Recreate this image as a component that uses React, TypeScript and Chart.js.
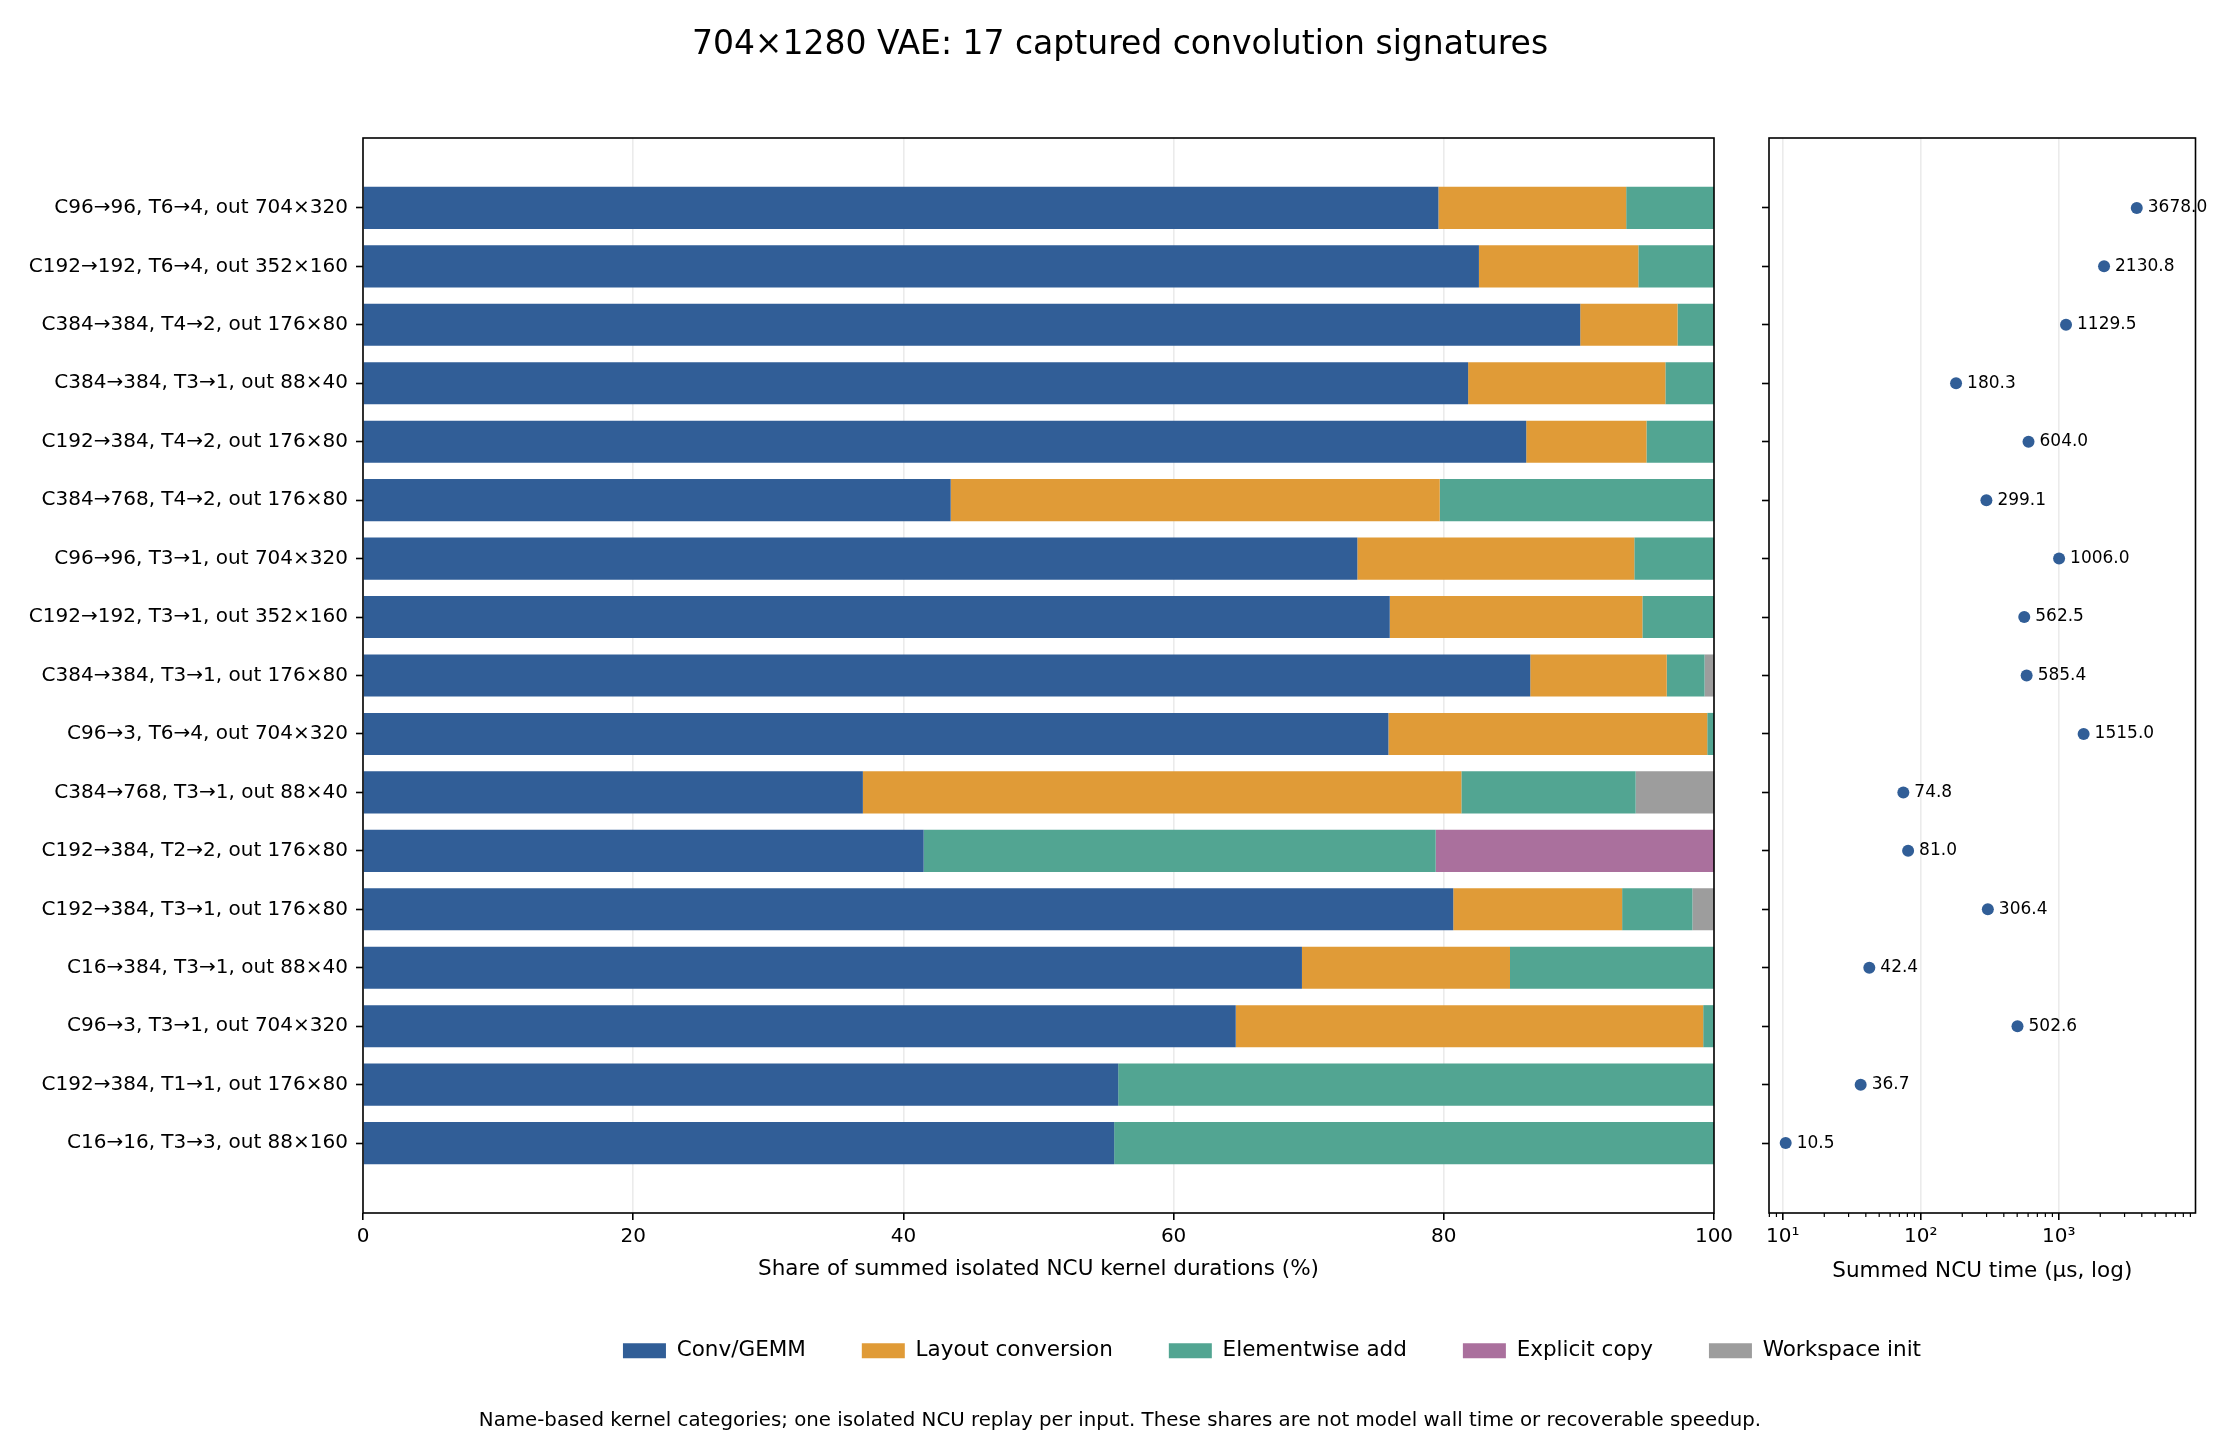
import React, { useEffect, useRef } from 'react';
import { Chart, registerables } from 'chart.js';

Chart.register(...registerables);

const categories = [
  'C96→96, T6→4, out 704×320',
  'C192→192, T6→4, out 352×160',
  'C384→384, T4→2, out 176×80',
  'C384→384, T3→1, out 88×40',
  'C192→384, T4→2, out 176×80',
  'C384→768, T4→2, out 176×80',
  'C96→96, T3→1, out 704×320',
  'C192→192, T3→1, out 352×160',
  'C384→384, T3→1, out 176×80',
  'C96→3, T6→4, out 704×320',
  'C384→768, T3→1, out 88×40',
  'C192→384, T2→2, out 176×80',
  'C192→384, T3→1, out 176×80',
  'C16→384, T3→1, out 88×40',
  'C96→3, T3→1, out 704×320',
  'C192→384, T1→1, out 176×80',
  'C16→16, T3→3, out 88×160',
];

const convGemm = [79.6, 82.6, 90.1, 81.8, 86.1, 43.5, 73.6, 76.0, 86.4, 75.9, 37.0, 41.5, 80.7, 69.5, 64.6, 55.9, 55.6];
const layoutConversion = [13.9, 11.8, 7.2, 14.6, 8.9, 36.2, 20.5, 18.7, 10.1, 23.6, 44.3, 0, 12.5, 15.4, 34.6, 0, 0];
const elementwiseAdd = [6.5, 5.6, 2.7, 3.6, 5.0, 20.3, 5.9, 5.3, 2.8, 0.5, 12.9, 37.9, 5.2, 15.1, 0.8, 44.1, 44.4];
const explicitCopy = [0, 0, 0, 0, 0, 0, 0, 0, 0, 0, 0, 20.6, 0, 0, 0, 0, 0];
const workspaceInit = [0, 0, 0, 0, 0, 0, 0, 0, 0.7, 0, 5.8, 0, 1.6, 0, 0, 0, 0];

const ncuTimeUs = [3678.0, 2130.8, 1129.5, 180.3, 604.0, 299.1, 1006.0, 562.5, 585.4, 1515.0, 74.8, 81.0, 306.4, 42.4, 502.6, 36.7, 10.5];

const seriesNames = ['Conv/GEMM', 'Layout conversion', 'Elementwise add', 'Explicit copy', 'Workspace init'];
const seriesValues = [convGemm, layoutConversion, elementwiseAdd, explicitCopy, workspaceInit];
const seriesColors = ['#315e97', '#e09b37', '#52a592', '#aa709d', '#9d9d9d'];
const pointColor = '#315e97';

const shareTicks = [0, 20, 40, 60, 80, 100];
const logMajorTicks = [10, 100, 1000];
const logTickLabels = ['10¹', '10²', '10³'];
const logDecades = [1, 10, 100, 1000];
const logMinorMultipliers = [2, 3, 4, 5, 6, 7, 8, 9];

const titleText = '704×1280 VAE: 17 captured convolution signatures';
const footnoteText =
  'Name-based kernel categories; one isolated NCU replay per input. These shares are not model wall time or recoverable speedup.';
const shareAxisTitle = 'Share of summed isolated NCU kernel durations (%)';
const timeAxisTitle = 'Summed NCU time (μs, log)';

const Y_MIN = -1.196;
const Y_MAX = 17.196;
const GRID_COLOR = '#ebebeb';
const LEFT_CANVAS_W = 2544;

const framePlugin = {
  id: 'frame',
  afterDatasetsDraw(chart: any) {
    const { ctx, chartArea: a } = chart;
    ctx.save();
    ctx.strokeStyle = '#000';
    ctx.lineWidth = 1.6;
    ctx.strokeRect(a.left, a.top, a.right - a.left, a.bottom - a.top);
    ctx.restore();
  },
};

const minorTickPlugin = {
  id: 'minorTicks',
  afterDraw(chart: any) {
    const { ctx, chartArea: a } = chart;
    const xs = chart.scales.x;
    ctx.save();
    ctx.strokeStyle = '#000';
    ctx.lineWidth = 1.2;
    logDecades.forEach((d) => {
      logMinorMultipliers.forEach((m) => {
        const v = d * m;
        if (v < xs.min || v > xs.max) return;
        const px = xs.getPixelForValue(v);
        ctx.beginPath();
        ctx.moveTo(px, a.bottom);
        ctx.lineTo(px, a.bottom + 4);
        ctx.stroke();
      });
    });
    ctx.restore();
  },
};

const pointLabelPlugin = {
  id: 'pointLabels',
  afterDatasetsDraw(chart: any) {
    const { ctx } = chart;
    const meta = chart.getDatasetMeta(0);
    ctx.save();
    ctx.font = '17px "DejaVu Sans"';
    ctx.fillStyle = '#000';
    ctx.textAlign = 'left';
    ctx.textBaseline = 'middle';
    meta.data.forEach((el: any, i: number) => {
      ctx.fillText(ncuTimeUs[i].toFixed(1), el.x + 11, el.y);
    });
    ctx.restore();
  },
};

export default function App() {
  const leftRef = useRef<HTMLCanvasElement>(null);
  const rightRef = useRef<HTMLCanvasElement>(null);

  useEffect(() => {
    document.body.style.margin = '0';
    Chart.defaults.font.family = '"DejaVu Sans", sans-serif';
    Chart.defaults.color = '#000';

    const left = new Chart(leftRef.current as HTMLCanvasElement, {
      type: 'bar',
      data: {
        datasets: seriesNames.map((name, k) => ({
          label: name,
          data: seriesValues[k].map((v, i) => ({ x: v, y: i })),
          backgroundColor: seriesColors[k],
          borderWidth: 0,
          categoryPercentage: 0.8,
          barPercentage: 0.9,
          xAxisID: 'x',
          yAxisID: 'y',
        })),
      },
      options: {
        indexAxis: 'y',
        responsive: false,
        animation: false,
        devicePixelRatio: 1,
        layout: { padding: { left: 0, right: 0, top: 138, bottom: 68.5 } },
        plugins: {
          legend: {
            position: 'bottom',
            labels: {
              boxWidth: 43,
              boxHeight: 15,
              padding: 56,
              font: { size: 21.5 },
              color: '#000',
            },
          },
          tooltip: { enabled: false },
          title: { display: false },
        },
        scales: {
          x: {
            type: 'linear',
            position: 'bottom',
            stacked: true,
            min: 0,
            max: 100,
            afterBuildTicks: (s: any) => {
              s.ticks = shareTicks.map((v) => ({ value: v }));
            },
            ticks: { font: { size: 20 }, color: '#000', padding: 5, autoSkip: false, maxRotation: 0 },
            grid: { color: GRID_COLOR, lineWidth: 1.6, tickColor: '#000', tickLength: 7, tickWidth: 1.6 },
            border: { display: false },
            title: {
              display: true,
              text: shareAxisTitle,
              font: { size: 21.5 },
              color: '#000',
              padding: { top: 0, bottom: 2 },
            },
            afterFit: (s: any) => {
              s.height = 71;
            },
          },
          y: {
            type: 'linear',
            position: 'left',
            stacked: true,
            reverse: true,
            offset: false,
            min: Y_MIN,
            max: Y_MAX,
            afterBuildTicks: (s: any) => {
              s.ticks = categories.map((_, i) => ({ value: i }));
            },
            ticks: {
              callback: (v: any) => categories[v as number] ?? '',
              font: { size: 20 },
              color: '#000',
              padding: 8,
              autoSkip: false,
            },
            grid: { offset: false, drawOnChartArea: false, tickColor: '#000', tickLength: 7, tickWidth: 1.6 },
            border: { display: false },
            afterFit: (s: any) => {
              s.width = 363;
            },
          },
          spacer: {
            type: 'linear',
            position: 'right',
            display: true,
            grid: { display: false },
            ticks: { display: false },
            border: { display: false },
            afterFit: (s: any) => {
              s.width = LEFT_CANVAS_W - 1714;
            },
          },
        },
      } as any,
      plugins: [framePlugin],
    });

    const right = new Chart(rightRef.current as HTMLCanvasElement, {
      type: 'scatter',
      data: {
        datasets: [
          {
            label: 'Summed NCU time',
            data: ncuTimeUs.map((v, i) => ({ x: v, y: i })),
            backgroundColor: pointColor,
            borderWidth: 0,
            pointRadius: 6,
            pointHoverRadius: 6,
            xAxisID: 'x',
            yAxisID: 'y',
          },
        ],
      },
      options: {
        responsive: false,
        animation: false,
        devicePixelRatio: 1,
        layout: { padding: 0 },
        plugins: {
          legend: { display: false },
          tooltip: { enabled: false },
          title: {
            display: true,
            text: titleText,
            font: { size: 33, weight: 'normal' },
            color: '#000',
            padding: { top: 26, bottom: 72.4 },
          },
          subtitle: {
            display: true,
            position: 'bottom',
            text: footnoteText,
            font: { size: 19.8, weight: 'normal' },
            color: '#000',
            padding: { top: 124.6, bottom: 7.64 },
          },
        },
        scales: {
          x: {
            type: 'logarithmic',
            position: 'bottom',
            min: 7.95,
            max: 9800,
            afterBuildTicks: (s: any) => {
              s.ticks = logMajorTicks.map((v) => ({ value: v, major: true }));
            },
            ticks: {
              callback: (v: any) => {
                const idx = logMajorTicks.indexOf(Number(v));
                return idx >= 0 ? logTickLabels[idx] : '';
              },
              font: { size: 20 },
              color: '#000',
              padding: 5,
              autoSkip: false,
              maxRotation: 0,
            },
            grid: { color: GRID_COLOR, lineWidth: 1.6, tickColor: '#000', tickLength: 7, tickWidth: 1.6 },
            border: { display: false },
            title: { display: true, text: timeAxisTitle, font: { size: 21.5 }, color: '#000', padding: 0 },
            afterFit: (s: any) => {
              s.height = 71;
            },
          },
          y: {
            type: 'linear',
            position: 'left',
            reverse: true,
            offset: false,
            min: Y_MIN,
            max: Y_MAX,
            afterBuildTicks: (s: any) => {
              s.ticks = categories.map((_, i) => ({ value: i }));
            },
            ticks: { callback: () => '', autoSkip: false },
            grid: { offset: false, drawOnChartArea: false, tickColor: '#000', tickLength: 7, tickWidth: 1.6 },
            border: { display: false },
            afterFit: (s: any) => {
              s.width = 1769;
            },
          },
          spacer: {
            type: 'linear',
            position: 'right',
            display: true,
            grid: { display: false },
            ticks: { display: false },
            border: { display: false },
            afterFit: (s: any) => {
              s.width = 44.5;
            },
          },
        },
      } as any,
      plugins: [framePlugin, minorTickPlugin, pointLabelPlugin],
    });

    return () => {
      left.destroy();
      right.destroy();
    };
  }, []);

  return (
    <div
      style={{
        position: 'relative',
        width: '2240px',
        height: '1440px',
        background: '#fff',
        overflow: 'hidden',
      }}
    >
      <canvas
        ref={leftRef}
        width={LEFT_CANVAS_W}
        height={1440}
        style={{ position: 'absolute', left: 0, top: 0, width: `${LEFT_CANVAS_W}px`, height: '1440px' }}
      />
      <canvas
        ref={rightRef}
        width={2240}
        height={1440}
        style={{ position: 'absolute', left: 0, top: 0, width: '2240px', height: '1440px' }}
      />
    </div>
  );
}
